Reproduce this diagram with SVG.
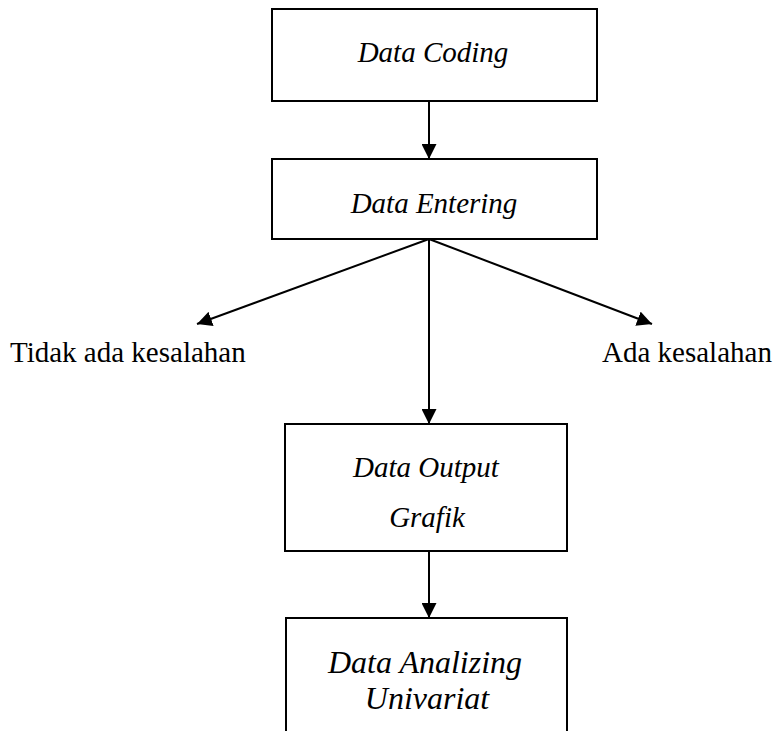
<svg xmlns="http://www.w3.org/2000/svg" width="774" height="731" viewBox="0 0 774 731">
<style>
.box{fill:#fff;stroke:#000;stroke-width:2}
text{font-family:'Liberation Serif','Times New Roman','DejaVu Serif',serif;fill:#000}
.lbl{font-style:italic;font-size:29px}
.big{font-size:32px}
.plain{font-size:29px}
.conn{stroke:#000;stroke-width:2;fill:none;marker-end:url(#ah)}
</style>
<defs>
<marker id="ah" markerUnits="userSpaceOnUse" markerWidth="15" markerHeight="15" refX="15" refY="7.5" orient="auto">
<path d="M0,0 L15,7.5 L0,15 z" fill="#000"/>
</marker>
</defs>
<rect width="774" height="731" fill="#fff"/>
<g id="connectors">
<line class="conn" x1="429" y1="101" x2="429" y2="159"/>
<line class="conn" x1="429" y1="239" x2="197" y2="324"/>
<line class="conn" x1="429" y1="239" x2="652" y2="324"/>
<line class="conn" x1="429" y1="239" x2="429" y2="424"/>
<line class="conn" x1="429" y1="551" x2="429" y2="618"/>
</g>
<g id="node-coding">
<rect class="box" x="272" y="9" width="325" height="92"/>
<text class="lbl" font-family="Liberation Serif, serif" x="433" y="62" text-anchor="middle">Data Coding</text>
</g>
<g id="node-entering">
<rect class="box" x="272" y="159" width="325" height="80"/>
<text class="lbl" font-family="Liberation Serif, serif" x="434" y="213" text-anchor="middle">Data Entering</text>
</g>
<g id="label-tidak">
<text class="plain" font-family="Liberation Serif, serif" x="10" y="362">Tidak ada kesalahan</text>
</g>
<g id="label-ada">
<text class="plain" font-family="Liberation Serif, serif" x="602" y="362">Ada kesalahan</text>
</g>
<g id="node-output">
<rect class="box" x="285" y="424" width="282" height="127"/>
<text class="lbl" font-family="Liberation Serif, serif" x="426" y="477" text-anchor="middle">Data Output</text>
<text class="lbl" font-family="Liberation Serif, serif" x="427" y="527" text-anchor="middle">Grafik</text>
</g>
<g id="node-analizing">
<rect class="box" x="286" y="618" width="281" height="130"/>
<text class="lbl big" font-family="Liberation Serif, serif" x="425" y="673" text-anchor="middle">Data Analizing</text>
<text class="lbl big" font-family="Liberation Serif, serif" x="427" y="709" text-anchor="middle">Univariat</text>
</g>
</svg>
